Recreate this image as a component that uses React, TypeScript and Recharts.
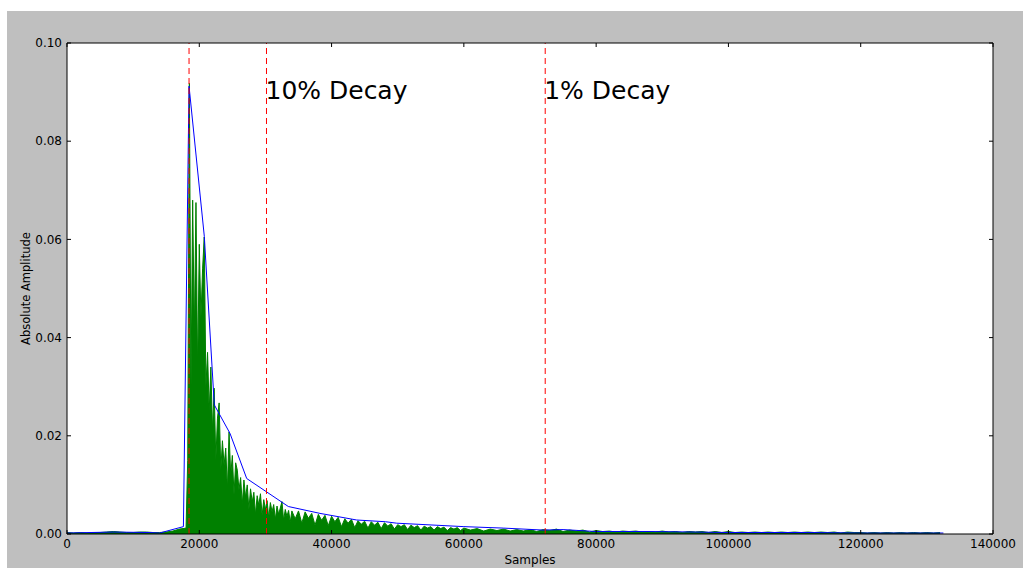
import {
  Area,
  CartesianGrid,
  ComposedChart,
  Line,
  ReferenceLine,
  XAxis,
  YAxis,
} from "recharts";

// green signal (absolute amplitude), sampled on a few regular grids
const preStart = 0;
const preStep = 1000;
const preAmp = [
  0.0003, 0.0002, 0.0003, 0.0002, 0.0003, 0.0003, 0.0004, 0.0005, 0.0004, 0.0003,
  0.0003, 0.0004, 0.0004, 0.0003, 0.0003, 0.0004, 0.0006, 0.001,
];

const onsetStart = 18000;
const onsetStep = 250;
const onsetAmp = [
  0.0012, 0.015, 0.0918, 0.03, 0.068, 0.041, 0.0675, 0.033, 0.059, 0.044,
  0.054, 0.0605, 0.03, 0.037, 0.025, 0.034, 0.021, 0.0297, 0.015, 0.0236,
  0.0267, 0.013, 0.019, 0.014, 0.0175, 0.009, 0.0208, 0.012, 0.016, 0.008,
  0.0145, 0.013, 0.009, 0.0115, 0.006, 0.011, 0.0075, 0.01, 0.005, 0.0092,
  0.0065, 0.0085, 0.004, 0.0078, 0.0058, 0.0082, 0.0038, 0.007, 0.005, 0.0068,
  0.0033, 0.0064, 0.0045, 0.006, 0.003, 0.0057, 0.004, 0.0053, 0.0066, 0.0028,
  0.005, 0.0036, 0.0048, 0.0024, 0.0047,
];

const decayStart = 34500;
const decayStep = 500;
const decayAmp = [
  0.0031, 0.0047, 0.0022, 0.0045, 0.0032, 0.0042, 0.0018, 0.004, 0.0028, 0.0038,
  0.0017, 0.0036, 0.0025, 0.0034, 0.0015, 0.0031, 0.0022, 0.003, 0.0013, 0.0027,
  0.002, 0.0026, 0.0012, 0.0025, 0.0018, 0.0024, 0.0011, 0.0023, 0.0016, 0.0021,
  0.001, 0.0019, 0.0015, 0.0019, 0.0009, 0.0018, 0.0013, 0.0017, 0.0008, 0.0016,
  0.0012, 0.0015, 0.0008, 0.0015, 0.0011, 0.0014, 0.0007, 0.0013, 0.001, 0.0013,
  0.0007, 0.0012,
];

const tailStart = 61000;
const tailStep = 1000;
const tailAmp = [
  0.0008, 0.0011, 0.0006, 0.001, 0.0007, 0.001, 0.0006, 0.0009, 0.0006, 0.0009,
  0.0005, 0.0009, 0.0007, 0.001, 0.0005, 0.0008, 0.0006, 0.0008, 0.0004, 0.0007,
  0.0005, 0.0006, 0.0004, 0.0006, 0.0005, 0.0006, 0.0004, 0.0005, 0.0004, 0.0006,
  0.0004, 0.0005, 0.0003, 0.0005, 0.0004, 0.0005, 0.0003, 0.0005, 0.0003, 0.0005,
  0.0003, 0.0004, 0.0003, 0.0004, 0.0003, 0.0004, 0.0003, 0.0004, 0.0003, 0.0004,
  0.0003, 0.0004, 0.0003, 0.0004, 0.0003, 0.0004, 0.0002, 0.0004, 0.0003, 0.0003,
  0.0002, 0.0003, 0.0002, 0.0003, 0.0002, 0.0003, 0.0002, 0.0003, 0.0002, 0.0003,
  0.0002, 0.0003,
];

// blue envelope
const envX = [
  0, 7000, 12500, 14000, 17600, 18450, 20760, 22270, 24640, 27170, 33460, 38250,
  43800, 48140, 49850, 60000, 66000, 72000, 75000, 80000, 88000, 95000, 100000,
  112000, 120000, 132500,
];
const envY = [
  0.0002, 0.0004, 0.0003, 0.0002, 0.0015, 0.0912, 0.0606, 0.0263, 0.0205, 0.0113,
  0.0056, 0.0042, 0.00285, 0.0025, 0.0022, 0.0015, 0.0012, 0.0008, 0.0009, 0.0005,
  0.0005, 0.0004, 0.0003, 0.0003, 0.0002, 0.0002,
];

// red decay markers
const onsetMark = 18450;
const decayMarks = [
  { x: 30160, label: "10% Decay" },
  { x: 72300, label: "1% Decay" },
];

const xTicks = [0, 20000, 40000, 60000, 80000, 100000, 120000, 140000];
const yTicks = [0, 0.02, 0.04, 0.06, 0.08, 0.1];

const PLOT_LEFT = 67;
const PLOT_RIGHT = 993;
const PLOT_TOP = 43;
const PLOT_BOTTOM = 534;
const FONT = "'DejaVu Sans', sans-serif";

type Row = { x: number; amp?: number; env?: number };

function buildData(): Row[] {
  const rows = new Map<number, Row>();
  const addSeg = (start: number, step: number, vals: number[]) =>
    vals.forEach((v, i) => {
      const x = start + i * step;
      rows.set(x, { ...(rows.get(x) || { x }), amp: v });
    });
  addSeg(preStart, preStep, preAmp);
  addSeg(onsetStart, onsetStep, onsetAmp);
  addSeg(decayStart, decayStep, decayAmp);
  addSeg(tailStart, tailStep, tailAmp);
  envX.forEach((x, i) => {
    rows.set(x, { ...(rows.get(x) || { x }), env: envY[i] });
  });
  return Array.from(rows.values()).sort((a, b) => a.x - b.x);
}

const data = buildData();

const BottomTick = (props: any) => {
  const { x, payload } = props;
  return (
    <g>
      <line x1={x} x2={x} y1={PLOT_BOTTOM} y2={PLOT_BOTTOM - 4} stroke="#000" />
      <text x={x} y={548} textAnchor="middle" fontSize={12} fill="#000" fontFamily={FONT}>
        {payload.value}
      </text>
    </g>
  );
};

const TopTick = (props: any) => (
  <line x1={props.x} x2={props.x} y1={PLOT_TOP} y2={PLOT_TOP + 4} stroke="#000" />
);

const LeftTick = (props: any) => {
  const { y, payload } = props;
  return (
    <g>
      <line x1={PLOT_LEFT} x2={PLOT_LEFT + 4} y1={y} y2={y} stroke="#000" />
      <text x={62} y={y} dy="0.35em" textAnchor="end" fontSize={12} fill="#000" fontFamily={FONT}>
        {Number(payload.value).toFixed(2)}
      </text>
    </g>
  );
};

const RightTick = (props: any) => (
  <line x1={PLOT_RIGHT} x2={PLOT_RIGHT - 4} y1={props.y} y2={props.y} stroke="#000" />
);

const DecayLabel = (props: any) => (
  <text x={props.viewBox.x - 1} y={99} fontSize={25} fill="#000" fontFamily={FONT}>
    {props.text}
  </text>
);

export default function App() {
  return (
    <div style={{ position: "absolute", left: 0, top: 0, width: 1023, height: 568, background: "#fff", fontFamily: FONT }}>
      <div style={{ position: "absolute", left: 7, top: 11, width: 1016, height: 557, background: "#bfbfbf" }} />
      <div style={{ position: "absolute", left: 0, top: 0 }}>
        <ComposedChart
          width={1023}
          height={568}
          data={data}
          margin={{ top: PLOT_TOP - 10, right: 1023 - PLOT_RIGHT - 10, bottom: 4, left: 7 }}
        >
          <CartesianGrid fill="#ffffff" horizontal={false} vertical={false} />
          <XAxis
            dataKey="x"
            type="number"
            domain={[0, 140000]}
            ticks={xTicks}
            interval={0}
            allowDataOverflow
            height={568 - PLOT_BOTTOM - 4}
            tickLine={false}
            axisLine={{ stroke: "#000" }}
            tick={<BottomTick />}
          />
          <XAxis
            xAxisId="top"
            orientation="top"
            dataKey="x"
            type="number"
            domain={[0, 140000]}
            ticks={xTicks}
            interval={0}
            allowDataOverflow
            height={10}
            tickLine={false}
            axisLine={{ stroke: "#000" }}
            tick={<TopTick />}
          />
          <YAxis
            type="number"
            domain={[0, 0.1]}
            ticks={yTicks}
            interval={0}
            allowDataOverflow
            width={PLOT_LEFT - 7}
            tickLine={false}
            axisLine={{ stroke: "#000" }}
            tick={<LeftTick />}
          />
          <YAxis
            yAxisId="right"
            orientation="right"
            type="number"
            domain={[0, 0.1]}
            ticks={yTicks}
            interval={0}
            allowDataOverflow
            width={10}
            tickLine={false}
            axisLine={{ stroke: "#000" }}
            tick={<RightTick />}
          />
          <Area
            type="linear"
            dataKey="amp"
            stroke="#008000"
            strokeWidth={1}
            fill="#008000"
            fillOpacity={1}
            connectNulls
            dot={false}
            activeDot={false}
            isAnimationActive={false}
          />
          <Line
            type="linear"
            dataKey="env"
            stroke="#0000ff"
            strokeWidth={1}
            connectNulls
            dot={false}
            activeDot={false}
            isAnimationActive={false}
          />
          <ReferenceLine x={onsetMark} stroke="#ff0000" strokeDasharray="6 4" />
          {decayMarks.map((m) => (
            <ReferenceLine
              key={m.x}
              x={m.x}
              stroke="#ff0000"
              strokeDasharray="6 4"
              label={<DecayLabel text={m.label} />}
            />
          ))}
        </ComposedChart>
      </div>
      <div
        style={{
          position: "absolute",
          left: 0,
          top: 0,
          width: 1023,
          height: 568,
          pointerEvents: "none",
        }}
      >
        <svg width={1023} height={568}>
          <text x={(PLOT_LEFT + PLOT_RIGHT) / 2} y={564} textAnchor="middle" fontSize={12} fill="#000" fontFamily={FONT}>
            Samples
          </text>
          <text
            x={30}
            y={(PLOT_TOP + PLOT_BOTTOM) / 2}
            transform={`rotate(-90, 30, ${(PLOT_TOP + PLOT_BOTTOM) / 2})`}
            textAnchor="middle"
            fontSize={11.5}
            fill="#000"
            fontFamily={FONT}
          >
            Absolute Amplitude
          </text>
        </svg>
      </div>
    </div>
  );
}
